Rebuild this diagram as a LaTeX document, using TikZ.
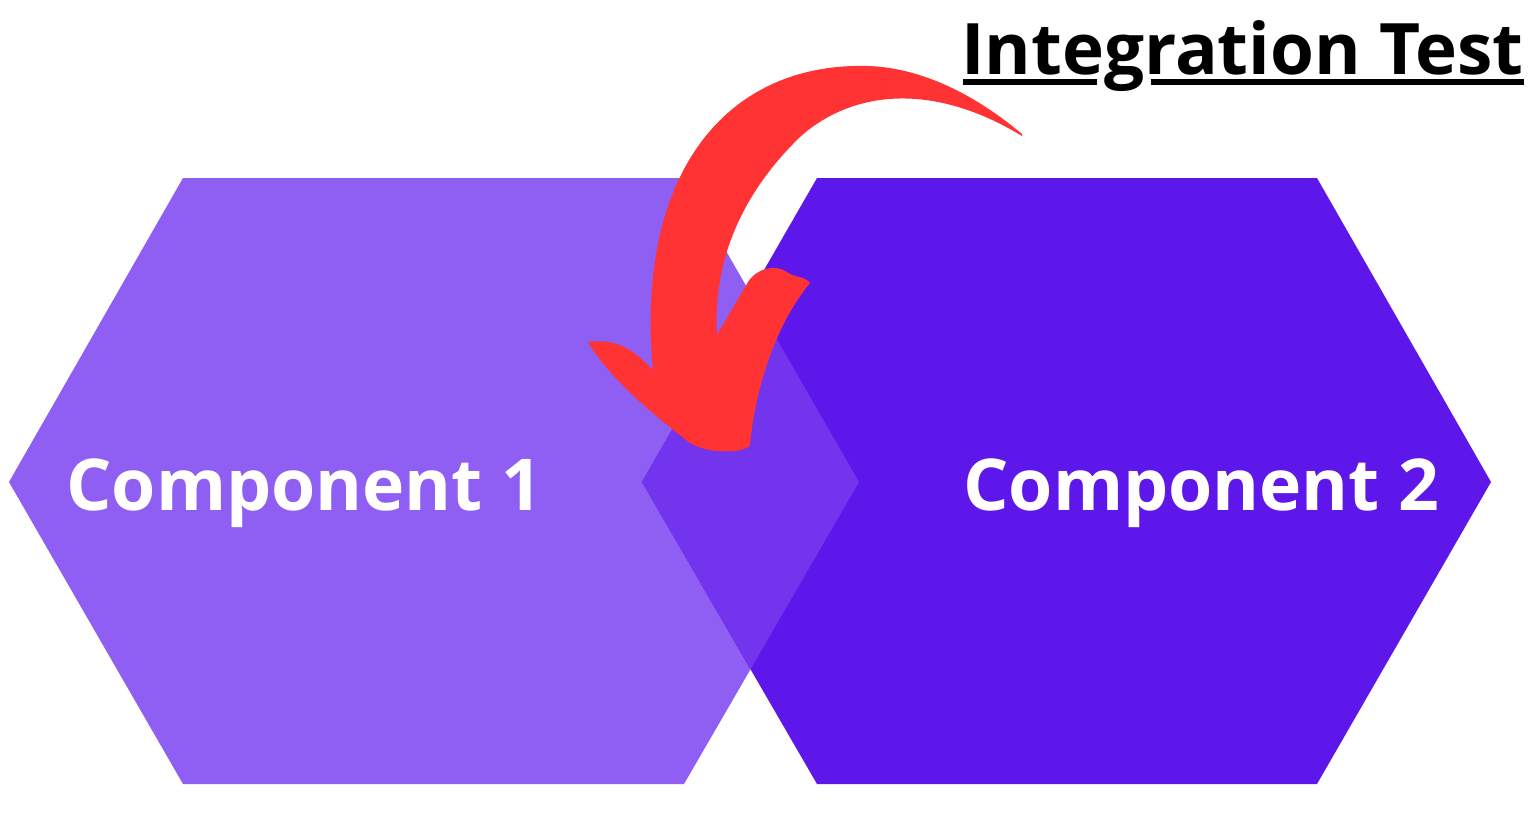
\documentclass[tikz,border=0pt]{standalone}
\usepackage{fontspec}
\setmainfont{Open Sans}
\definecolor{hexA}{HTML}{8F5EF2}
\definecolor{hexB}{HTML}{5E17EB}
\definecolor{hexC}{HTML}{7234EC}
\definecolor{arrowred}{HTML}{FF3333}
\begin{document}
\begin{tikzpicture}[x=1pt,y=-1pt,
  compname/.style={font=\fontsize{71.5}{80}\selectfont\bfseries, text=white, inner sep=0pt, anchor=base west},
  titletext/.style={font=\fontsize{71}{80}\selectfont\bfseries, text=black, inner sep=0pt, anchor=base west},
  uline/.style={line width=6pt, black}]
\useasboundingbox (0,0) rectangle (1536,814);
\fill[white] (0,0) rectangle (1536,814);
% hexagons
\fill[hexA] (183,178) -- (684,178) -- (859,482) -- (684,784) -- (183,784) -- (9,482) -- cycle;
\fill[hexB] (817,178) -- (1317,178) -- (1491,482) -- (1317,784) -- (817,784) -- (642,482) -- cycle;
\fill[hexC] (642,482) -- (750.5,293.5) -- (859,482) -- (750.5,669.2) -- cycle;
% labels
\node[compname] (c1) at (66,510) {Component 1};
\node[compname] (c2) at (963,510) {Component 2};
\node[titletext] (title) at (961,74) {Integration Test};
\coordinate (u1) at (963,82);
\coordinate (u2) at (1097,82);
\coordinate (u3) at (1151,82);
\coordinate (u4) at (1524,82);
\draw[uline] (u1) -- (u2);
\draw[uline] (u3) -- (u4);
% arrow
\fill[arrowred]
  (1022,134) .. controls (985,103) and (930,68) .. (868,66)
  .. controls (725,62) and (635,175) .. (653,370)
  .. controls (635,352) and (620,338) .. (588,342)
  .. controls (610,380) and (660,420) .. (690,443)
  .. controls (710,455) and (745,453) .. (750,445)
  .. controls (755,390) and (775,325) .. (810,283)
  .. controls (805,276) and (795,278) .. (787,272)
  .. controls (775,264) and (757,268) .. (748,282)
  -- (717,335)
  .. controls (713,270) and (735,200) .. (800,137)
  .. controls (850,92) and (930,80) .. (1022,136)
  -- cycle;
\end{tikzpicture}
\end{document}
